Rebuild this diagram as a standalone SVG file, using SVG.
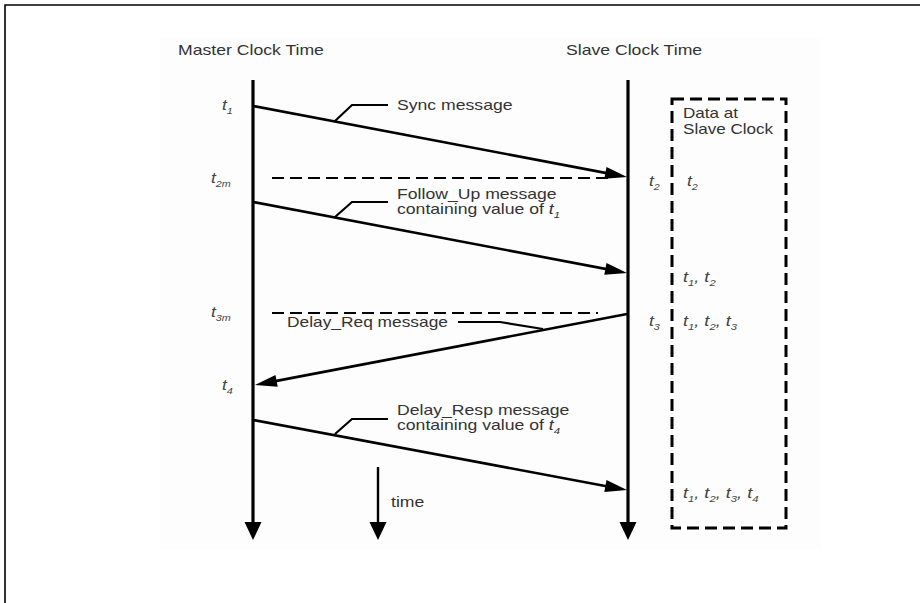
<svg xmlns="http://www.w3.org/2000/svg" width="920" height="603" viewBox="0 0 920 603">
<style>
.lbl{font-family:"Liberation Sans",Arial,sans-serif;font-size:14px;fill:#333}
.t{font-family:"Liberation Sans",Arial,sans-serif;font-size:14.5px;font-style:italic;fill:#444}
.sub{font-size:9px}
.time{stroke:#000;stroke-width:3.2;fill:none}
.msg{stroke:#000;stroke-width:2.6;fill:none}
.call{stroke:#000;stroke-width:2.2;fill:none}
.dash{stroke:#000;stroke-width:2;stroke-dasharray:12 6;fill:none}
</style>
<defs>
<marker id="ah" markerUnits="userSpaceOnUse" markerWidth="24" markerHeight="14" refX="12" refY="0" viewBox="0 -7 24 14" orient="auto" overflow="visible">
<path d="M0,-6 L22,0 L0,6 Z" fill="#000"/>
</marker>
<marker id="vh" markerUnits="userSpaceOnUse" markerWidth="20" markerHeight="18" refX="8" refY="0" viewBox="0 -9 20 18" orient="auto" overflow="visible">
<path d="M0,-8.5 L18,0 L0,8.5 Z" fill="#000"/>
</marker>
</defs>
<rect width="920" height="603" fill="#fff"/>
<rect x="160" y="38" width="661" height="512" fill="#fdfdfd"/>
<path d="M5,603 L5,5 L920,5" stroke="#000" stroke-width="1.6" fill="none"/>

<g id="master">
<text class="lbl" transform="translate(178,55) scale(1.26,1)">Master Clock Time</text>
<path class="time" d="M253,80 L253,530" marker-end="url(#vh)"/>
</g>
<g id="slave">
<text class="lbl" transform="translate(566,55) scale(1.26,1)">Slave Clock Time</text>
<path class="time" d="M628,80 L628,530" marker-end="url(#vh)"/>
</g>
<g id="time-axis">
<path d="M378,467 L378,530" stroke="#000" stroke-width="2.4" fill="none" marker-end="url(#vh)"/>
<text class="lbl" transform="translate(391,507) scale(1.26,1)">time</text>
</g>

<g id="master-labels">
<text class="t" transform="translate(222,110) scale(1.2,1)">t<tspan class="sub" dy="4">1</tspan></text>
<text class="t" transform="translate(211,183) scale(1.2,1)">t<tspan class="sub" dy="4">2m</tspan></text>
<text class="t" transform="translate(211,317) scale(1.2,1)">t<tspan class="sub" dy="4">3m</tspan></text>
<text class="t" transform="translate(222,390) scale(1.2,1)">t<tspan class="sub" dy="4">4</tspan></text>
</g>
<g id="slave-labels">
<text class="t" transform="translate(649,186) scale(1.2,1)">t<tspan class="sub" dy="4">2</tspan></text>
<text class="t" transform="translate(649,326) scale(1.2,1)">t<tspan class="sub" dy="4">3</tspan></text>
</g>

<g id="data-box">
<rect x="672" y="99" width="114" height="429" stroke="#000" stroke-width="3" stroke-dasharray="12 6" fill="none"/>
<text class="lbl" transform="translate(683,118) scale(1.22,1)">Data at</text>
<text class="lbl" transform="translate(683,134) scale(1.22,1)">Slave Clock</text>
<text class="t" transform="translate(687,186) scale(1.2,1)">t<tspan class="sub" dy="4">2</tspan></text>
<text class="t" transform="translate(683,282) scale(1.25,1)">t<tspan class="sub" dy="4">1</tspan><tspan dy="-4">, t</tspan><tspan class="sub" dy="4">2</tspan></text>
<text class="t" transform="translate(683,326) scale(1.25,1)">t<tspan class="sub" dy="4">1</tspan><tspan dy="-4">, t</tspan><tspan class="sub" dy="4">2</tspan><tspan dy="-4">, t</tspan><tspan class="sub" dy="4">3</tspan></text>
<text class="t" transform="translate(683,498) scale(1.25,1)">t<tspan class="sub" dy="4">1</tspan><tspan dy="-4">, t</tspan><tspan class="sub" dy="4">2</tspan><tspan dy="-4">, t</tspan><tspan class="sub" dy="4">3</tspan><tspan dy="-4">, t</tspan><tspan class="sub" dy="4">4</tspan></text>
</g>

<g id="connectors">
<path id="sync" class="msg" d="M253,106 L617.2,175.1" marker-end="url(#ah)"/>
<path id="t2m-line" class="dash" d="M272,178 L612,178"/>
<path id="followup" class="msg" d="M253,202 L617.2,271.1" marker-end="url(#ah)"/>
<path id="t3m-line" class="dash" d="M272,313 L598,313"/>
<path id="delayreq" class="msg" d="M627,314 L264.8,383.1" marker-end="url(#ah)"/>
<path id="delayresp" class="msg" d="M253,420 L617.2,488.2" marker-end="url(#ah)"/>
<path class="call" d="M388,105 L352,105 L335,121"/>
<path class="call" d="M388,202 L352,202 L335,217"/>
<path class="call" d="M458,322 L500,322 L543,329"/>
<path class="call" d="M388,419 L352,419 L335,434"/>
</g>

<g id="msg-labels">
<text class="lbl" transform="translate(397,110) scale(1.26,1)">Sync message</text>
<text class="lbl" transform="translate(397,199) scale(1.26,1)">Follow_Up message</text>
<text class="lbl" transform="translate(397,214) scale(1.26,1)">containing value of <tspan font-style="italic">t</tspan><tspan class="sub" dy="4" font-style="italic">1</tspan></text>
<text class="lbl" transform="translate(287,327) scale(1.24,1)">Delay_Req message</text>
<text class="lbl" transform="translate(397,415) scale(1.26,1)">Delay_Resp message</text>
<text class="lbl" transform="translate(397,430) scale(1.26,1)">containing value of <tspan font-style="italic">t</tspan><tspan class="sub" dy="4" font-style="italic">4</tspan></text>
</g>
</svg>
